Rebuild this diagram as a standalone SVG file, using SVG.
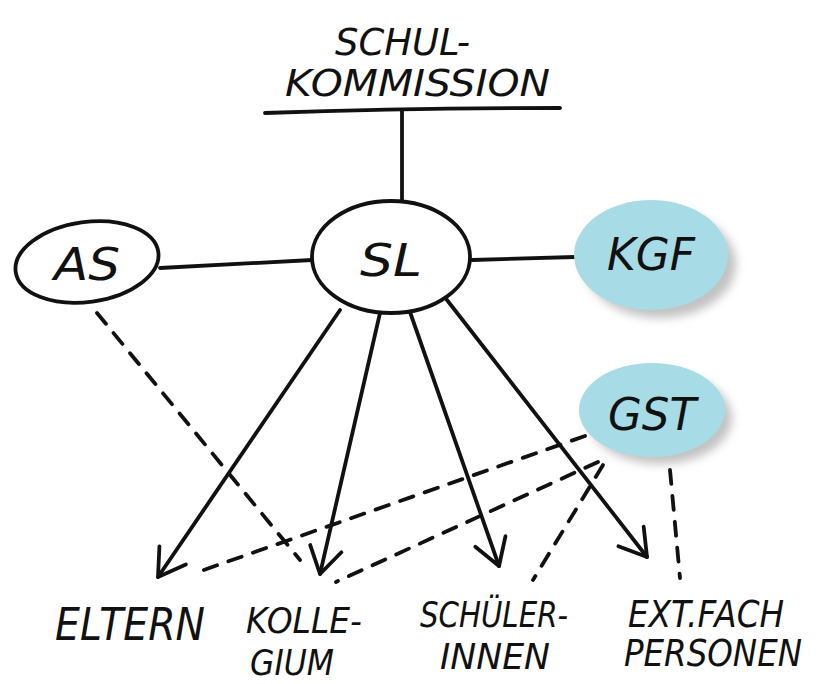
<svg xmlns="http://www.w3.org/2000/svg" width="831" height="684" viewBox="0 0 831 684">
<style>
.ln{stroke:#111;stroke-width:3.8;fill:none;stroke-linecap:round}
.ds{stroke:#111;stroke-width:3.8;fill:none;stroke-dasharray:14 12;stroke-linecap:round}
.ring{stroke:#111;stroke-width:3.8;fill:#fff}
.blob{fill:#a7dce6}
.t{font-family:"DejaVu Sans","Liberation Sans",sans-serif;font-style:italic;fill:#111;font-size:44px}
.s{font-size:37px}
.u{font-size:35px}
</style>
<defs>
<marker id="ah" markerUnits="userSpaceOnUse" markerWidth="50" markerHeight="50" refX="34" refY="20" orient="auto">
<polyline points="8,4 34,20 8,36" fill="none" stroke="#111" stroke-width="3.8" stroke-linecap="round" stroke-linejoin="round"/>
</marker>
<filter id="sh" x="-20%" y="-20%" width="150%" height="150%">
<feGaussianBlur stdDeviation="5"/>
</filter>
</defs>
<rect width="831" height="684" fill="#fff"/>
<g id="title">
<text class="t s" x="335" y="55" textLength="135" lengthAdjust="spacingAndGlyphs">SCHUL-</text>
<text class="t s" x="285" y="96" textLength="265" lengthAdjust="spacingAndGlyphs">KOMMISSION</text>
<path class="ln" d="M265,113 Q410,108 560,108"/>
</g>
<g id="connectors">
<line class="ln" x1="402" y1="110" x2="402" y2="200"/>
<line class="ln" x1="160" y1="268" x2="312" y2="260"/>
<line class="ln" x1="472" y1="260" x2="575" y2="257"/>
<line class="ln" x1="340" y1="310" x2="158" y2="577" marker-end="url(#ah)"/>
<line class="ln" x1="380" y1="313" x2="320" y2="574" marker-end="url(#ah)"/>
<line class="ln" x1="410" y1="312" x2="499" y2="566" marker-end="url(#ah)"/>
<line class="ln" x1="447" y1="300" x2="647" y2="557" marker-end="url(#ah)"/>
<line class="ds" x1="97" y1="313" x2="300" y2="560"/>
<line class="ds" x1="585" y1="436" x2="198" y2="572"/>
<line class="ds" x1="598" y1="462" x2="336" y2="582"/>
<line class="ds" x1="603" y1="465" x2="533" y2="580"/>
<line class="ds" x1="670" y1="470" x2="680" y2="578"/>
</g>
<g id="AS">
<ellipse class="ring" cx="87" cy="262" rx="72" ry="40" transform="rotate(-8 87 262)"/>
<text class="t" x="87" y="280" text-anchor="middle" textLength="66" lengthAdjust="spacingAndGlyphs">AS</text>
</g>
<g id="SL">
<ellipse class="ring" cx="391" cy="257" rx="79" ry="56"/>
<text class="t" x="391" y="276" text-anchor="middle" textLength="62" lengthAdjust="spacingAndGlyphs">SL</text>
</g>
<g id="KGF">
<ellipse cx="660" cy="264" rx="76" ry="54" fill="#9a9a9a" opacity="0.6" filter="url(#sh)"/>
<ellipse class="blob" cx="651" cy="255" rx="77" ry="55"/>
<text class="t" x="651" y="270" text-anchor="middle" textLength="88" lengthAdjust="spacingAndGlyphs">KGF</text>
</g>
<g id="GST">
<ellipse cx="660" cy="418" rx="72" ry="46" fill="#9a9a9a" opacity="0.6" filter="url(#sh)"/>
<ellipse class="blob" cx="652" cy="410" rx="73" ry="47"/>
<text class="t" x="652" y="430" text-anchor="middle" textLength="88" lengthAdjust="spacingAndGlyphs">GST</text>
</g>
<g id="ELTERN">
<text class="t" x="55" y="640" textLength="150" lengthAdjust="spacingAndGlyphs">ELTERN</text>
</g>
<g id="KOLLEGIUM">
<text class="t u" x="246" y="633" textLength="116" lengthAdjust="spacingAndGlyphs">KOLLE-</text>
<text class="t u" x="250" y="675" textLength="84" lengthAdjust="spacingAndGlyphs">GIUM</text>
</g>
<g id="SCHUELERINNEN">
<text class="t u" x="420" y="627" textLength="148" lengthAdjust="spacingAndGlyphs">SCHÜLER-</text>
<text class="t u" x="440" y="669" textLength="110" lengthAdjust="spacingAndGlyphs">INNEN</text>
</g>
<g id="EXTFACH">
<text class="t s" x="628" y="627" textLength="156" lengthAdjust="spacingAndGlyphs">EXT.FACH</text>
<text class="t s" x="624" y="666" textLength="178" lengthAdjust="spacingAndGlyphs">PERSONEN</text>
</g>
</svg>
